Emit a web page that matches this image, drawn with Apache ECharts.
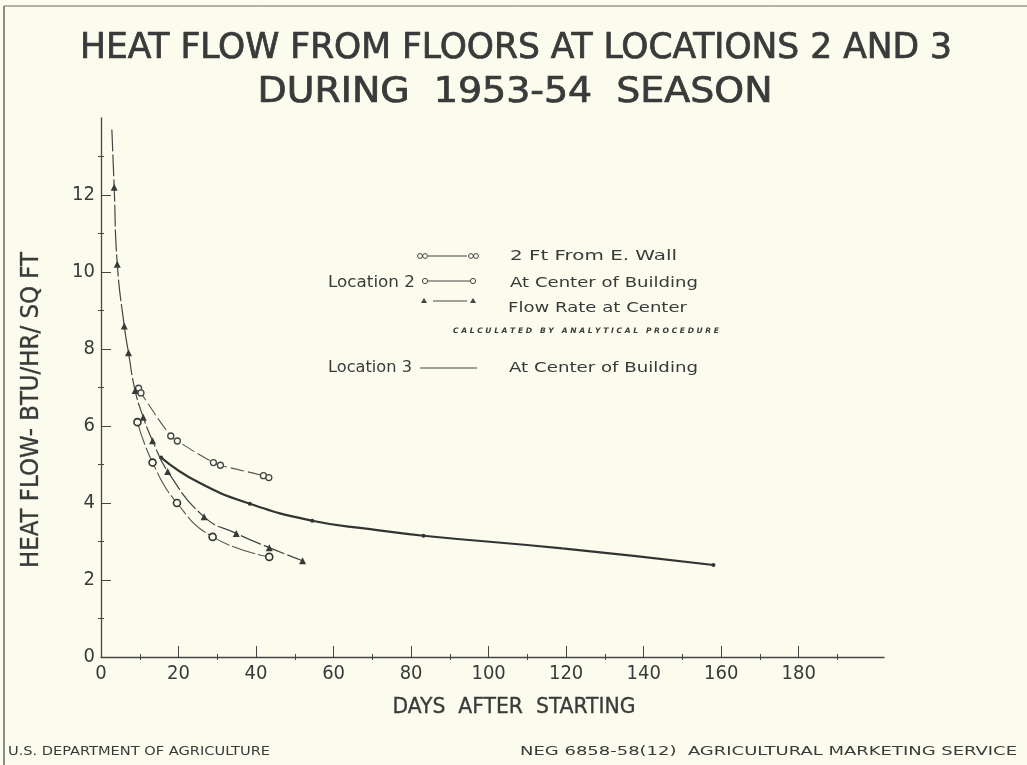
<!DOCTYPE html>
<html>
<head>
<meta charset="utf-8">
<script src="https://cdn.jsdelivr.net/npm/echarts@6/dist/echarts.min.js"></script>
<style>
html,body{margin:0;padding:0;background:#fcfcee;}
#c{width:1027px;height:765px;}
</style>
</head>
<body>
<div id="c"></div>
<script>
// ---- data ----
// Location 2, 2 ft from east wall (open double circles)
var wallDays = [9.7, 10.3, 18, 19.7, 29, 30.8, 41.9, 43.3];
var wallVals = [6.98, 6.86, 5.74, 5.61, 5.05, 4.98, 4.71, 4.66];
// Location 2, at center of building (open circles)
var loc2Days = [9.4, 13.3, 19.6, 28.8, 43.4];
var loc2Vals = [6.1, 5.05, 4.0, 3.12, 2.6];
// Flow rate at center, calculated (triangles); first point is the line's top end (no marker)
var flowDays = [2.8, 3.4, 4.2, 6.0, 7.1, 8.8, 10.9, 13.3, 17.2, 26.6, 34.9, 43.4, 52];
var flowVals = [13.7, 12.2, 10.2, 8.6, 7.9, 6.92, 6.23, 5.62, 4.82, 3.64, 3.21, 2.84, 2.5];
// Location 3, at center of building (heavy line) - marked points
var loc3Days = [15.5, 38.4, 54.5, 83.2, 158];
var loc3Vals = [5.18, 3.98, 3.54, 3.15, 2.39];
// Location 3 - extra points (no markers)
var loc3CurveDays = [24.9, 69.5, 119];
var loc3CurveVals = [4.55, 3.32, 2.82];
// ticks
var xMajorTicks = [0, 20, 40, 60, 80, 100, 120, 140, 160, 180];
var xMinorTicks = [10, 30, 50, 70, 90, 110, 130, 150, 170, 190];
var yMajorTicks = [0, 2, 4, 6, 8, 10, 12];
var yMinorTicks = [1, 3, 5, 7, 9, 11, 13];

function pairs(xs, ys) { return xs.map(function (x, i) { return [x, ys[i]]; }); }

var BG = '#fcfcee';
var INK = '#3a3a3a';
var LINE = '#444';
var COND = 'DejaVu Sans Condensed';
var SANS = 'DejaVu Sans';

var mctx = document.createElement('canvas').getContext('2d');
function fitText(text, x, y, width, o) {
  var size = o.size, fam = o.family || SANS, wt = o.weight || 'normal', st = o.style || 'normal';
  mctx.font = st + ' ' + wt + ' ' + size + 'px "' + fam + '"';
  var w = mctx.measureText(text).width;
  var el = {type: 'text', x: x, y: y, scaleX: width / w, silent: true,
    style: {text: text, fontFamily: fam, fontSize: size, fontWeight: wt, fontStyle: st, fill: INK,
      align: o.align || 'left', verticalAlign: 'middle'}};
  if (o.rotation) el.rotation = o.rotation;
  if (o.stroke) { el.style.stroke = INK; el.style.lineWidth = o.stroke; }
  return el;
}

var chart = echarts.init(document.getElementById('c'), null, {renderer: 'canvas'});

var flowData = pairs(flowDays, flowVals).map(function (p, i) {
  return i === 0 ? {value: p, symbol: 'none'} : {value: p};
});
var loc3Data = pairs(loc3Days, loc3Vals).map(function (p) { return {value: p}; })
  .concat(pairs(loc3CurveDays, loc3CurveVals).map(function (p) { return {value: p, symbol: 'none'}; }))
  .sort(function (a, b) { return a.value[0] - b.value[0]; });

function minorX(inside) {
  return {type: 'value', min: 0, max: 202, position: 'bottom',
    axisLine: {show: false}, splitLine: {show: false}, axisLabel: {show: false},
    axisTick: {show: true, inside: inside, length: 3, customValues: xMinorTicks, lineStyle: {color: LINE, width: 1}}};
}
function minorY(inside) {
  return {type: 'value', min: 0, max: 14, position: 'left',
    axisLine: {show: false}, splitLine: {show: false}, axisLabel: {show: false},
    axisTick: {show: true, inside: inside, length: 3, customValues: yMinorTicks, lineStyle: {color: LINE, width: 1}}};
}

var option = {
  backgroundColor: BG,
  animation: false,
  grid: {left: 101, right: 143, top: 118, bottom: 108, containLabel: false},
  xAxis: [
    {type: 'value', min: 0, max: 202, position: 'bottom',
      axisLine: {show: true, onZero: false, lineStyle: {color: LINE, width: 1.3}},
      splitLine: {show: false},
      axisTick: {show: true, inside: true, length: 11, customValues: xMajorTicks, lineStyle: {color: LINE, width: 1}},
      axisLabel: {show: true, customValues: xMajorTicks, margin: 7, fontFamily: COND, fontSize: 20, color: INK}},
    minorX(true), minorX(false)
  ],
  yAxis: [
    {type: 'value', min: 0, max: 14, position: 'left',
      axisLine: {show: true, onZero: false, lineStyle: {color: LINE, width: 1.3}},
      splitLine: {show: false},
      axisTick: {show: true, inside: true, length: 10, customValues: yMajorTicks, lineStyle: {color: LINE, width: 1}},
      axisLabel: {show: true, customValues: yMajorTicks, margin: 6, fontFamily: COND, fontSize: 20, color: INK}},
    minorY(true), minorY(false)
  ],
  series: [
    {name: '2 Ft From E. Wall', type: 'line', smooth: 0.5, z: 3,
      data: pairs(wallDays, wallVals), symbol: 'circle', symbolSize: 6,
      lineStyle: {color: '#555', width: 1.1, type: [14, 4]},
      itemStyle: {color: BG, borderColor: '#444', borderWidth: 1.3}},
    {name: 'At Center of Building (Loc 2)', type: 'line', smooth: 0.5, z: 3,
      data: pairs(loc2Days, loc2Vals), symbol: 'circle', symbolSize: 7,
      lineStyle: {color: '#555', width: 1.1, type: [24, 3]},
      itemStyle: {color: BG, borderColor: '#333', borderWidth: 1.6}},
    {name: 'Flow Rate at Center', type: 'line', smooth: 0.5, z: 3,
      data: flowData, symbol: 'triangle', symbolSize: 7,
      lineStyle: {color: '#444', width: 1.2, type: [22, 3]},
      itemStyle: {color: '#3a3a3a'}},
    {name: 'At Center of Building (Loc 3)', type: 'line', smooth: 0.5, z: 2,
      data: loc3Data, symbol: 'circle', symbolSize: 4,
      lineStyle: {color: '#333', width: 2.2},
      itemStyle: {color: '#333'}}
  ],
  graphic: [
    // frame
    {type: 'line', shape: {x1: 4, y1: 6, x2: 4, y2: 765}, style: {stroke: '#444', lineWidth: 1.2}, silent: true},
    {type: 'line', shape: {x1: 4, y1: 6, x2: 1027, y2: 6}, style: {stroke: '#666', lineWidth: 1}, silent: true},
    // title
    fitText('HEAT FLOW FROM FLOORS AT LOCATIONS 2 AND 3', 516, 49, 872, {size: 35, family: COND, stroke: 0.7, align: 'center'}),
    fitText('DURING  1953-54  SEASON', 515, 93, 515, {size: 35, family: COND, stroke: 0.7, align: 'center'}),
    // axis names
    fitText('HEAT FLOW- BTU/HR/ SQ FT', 32, 410, 316, {size: 24, align: 'center', rotation: Math.PI / 2, stroke: 0.3}),
    fitText('DAYS  AFTER  STARTING', 514, 707, 243, {size: 22, family: COND, align: 'center', stroke: 0.3}),
    // legend
    fitText('2 Ft From E. Wall', 510, 256, 167, {size: 14}),
    {type: 'circle', shape: {cx: 420, cy: 256, r: 2.4}, style: {fill: 'none', stroke: '#444', lineWidth: 1}},
    {type: 'circle', shape: {cx: 425, cy: 256, r: 2.4}, style: {fill: 'none', stroke: '#444', lineWidth: 1}},
    {type: 'line', shape: {x1: 428, y1: 256, x2: 467, y2: 256}, style: {stroke: '#444', lineWidth: 1}},
    {type: 'circle', shape: {cx: 471, cy: 256, r: 2.4}, style: {fill: 'none', stroke: '#444', lineWidth: 1}},
    {type: 'circle', shape: {cx: 476, cy: 256, r: 2.4}, style: {fill: 'none', stroke: '#444', lineWidth: 1}},

    fitText('Location 2', 328, 283, 87, {size: 15}),
    {type: 'circle', shape: {cx: 425, cy: 281, r: 2.6}, style: {fill: 'none', stroke: '#444', lineWidth: 1}},
    {type: 'line', shape: {x1: 428, y1: 281, x2: 470, y2: 281}, style: {stroke: '#444', lineWidth: 1}},
    {type: 'circle', shape: {cx: 473, cy: 281, r: 2.6}, style: {fill: 'none', stroke: '#444', lineWidth: 1}},
    fitText('At Center of Building', 510, 283, 188, {size: 14}),

    {type: 'polygon', shape: {points: [[424, 298], [421, 303], [427, 303]]}, style: {fill: '#444'}},
    {type: 'line', shape: {x1: 433, y1: 301, x2: 467, y2: 301}, style: {stroke: '#444', lineWidth: 1}},
    {type: 'polygon', shape: {points: [[473, 298], [470, 303], [476, 303]]}, style: {fill: '#444'}},
    fitText('Flow Rate at Center', 508, 308, 179, {size: 14}),
    fitText('C A L C U L A T E D   B Y   A N A L Y T I C A L   P R O C E D U R E', 453, 331, 266, {size: 7.5, style: 'italic', weight: 'bold'}),

    fitText('Location 3', 328, 368, 84, {size: 15}),
    {type: 'line', shape: {x1: 420, y1: 368, x2: 477, y2: 368}, style: {stroke: '#444', lineWidth: 1}},
    fitText('At Center of Building', 509, 368, 189, {size: 14}),

    // footer
    fitText('U.S. DEPARTMENT OF AGRICULTURE', 8, 752, 262, {size: 12, family: COND}),
    fitText('NEG 6858-58(12)  AGRICULTURAL MARKETING SERVICE', 1017, 752, 497, {size: 12, family: COND, align: 'right'})
  ]
};
chart.setOption(option);
</script>
</body>
</html>
